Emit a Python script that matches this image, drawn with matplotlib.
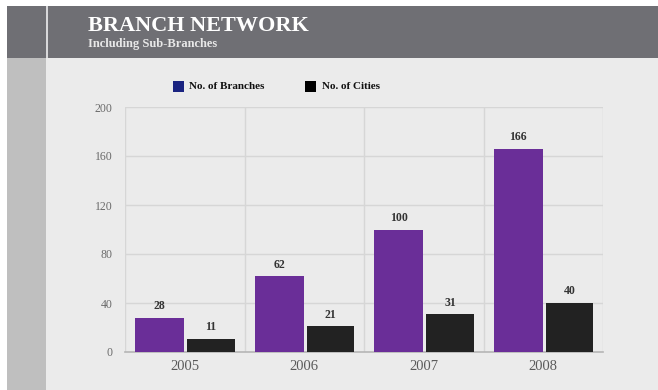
import numpy as np
import matplotlib.pyplot as plt
from matplotlib.patches import Rectangle

years = ["2005", "2006", "2007", "2008"]
branches = [28, 62, 100, 166]
cities = [11, 21, 31, 40]
y_ticks = [0, 40, 80, 120, 160, 200]

purple = "#6a2e98"
dark = "#222222"
bg = "#ebebeb"

plt.rcParams["font.family"] = ["Liberation Serif", "DejaVu Serif"]

fig = plt.figure(figsize=(6.58, 3.9), dpi=100)
fig.patch.set_facecolor("white")

# page background, header band and left strip
fig.patches.append(Rectangle((7 / 658, 0), 1, 1 - 6 / 390, transform=fig.transFigure,
                             facecolor=bg, edgecolor="none", zorder=-3))
fig.patches.append(Rectangle((7 / 658, 0), 39 / 658, 1 - 58 / 390, transform=fig.transFigure,
                             facecolor="#bfbfbf", edgecolor="none", zorder=-2))
fig.patches.append(Rectangle((7 / 658, 1 - 58 / 390), 1, 52 / 390, transform=fig.transFigure,
                             facecolor="#6f6f74", edgecolor="none", zorder=-2))
fig.patches.append(Rectangle((46 / 658, 1 - 58 / 390), 2 / 658, 52 / 390, transform=fig.transFigure,
                             facecolor="#d8d8da", edgecolor="none", zorder=-1))

fig.text(88 / 658, 1 - 26 / 390, "BRANCH NETWORK", color="white", fontsize=16,
         fontweight="bold", va="center", ha="left")
fig.text(88 / 658, 1 - 44 / 390, "Including Sub-Branches", color="#e8e8e8", fontsize=9,
         fontweight="bold", va="center", ha="left")

ax = fig.add_axes([125 / 658, 1 - 352 / 390, 478 / 658, 245 / 390])
ax.set_facecolor("none")

x = np.arange(len(years))
b1 = ax.bar(x - 0.21, branches, width=0.41, color=purple, zorder=3)
b2 = ax.bar(x + 0.22, cities, width=0.40, color=dark, zorder=3)

for rect, v in zip(list(b1) + list(b2), branches + cities):
    ax.text(rect.get_x() + rect.get_width() / 2, v + 4.5, str(v), ha="center", va="bottom",
            fontsize=8.5, fontweight="bold", color="#333333")

ax.set_xlim(-0.5, len(years) - 0.5)
ax.set_ylim(0, 200)
ax.set_yticks(y_ticks)
ax.set_yticklabels([str(t) for t in y_ticks], fontsize=8.5, color="#6a6a6a")
ax.set_xticks(x)
ax.set_xticklabels(years, fontsize=10.5, color="#5a5a5a")
ax.tick_params(axis="both", length=0)
ax.tick_params(axis="y", pad=9)
ax.tick_params(axis="x", pad=6)

for t in y_ticks[1:]:
    ax.axhline(t, color="#d6d6d6", lw=1, zorder=1)
for b in np.arange(-0.5, len(years), 1.0):
    ax.axvline(b, color="#d6d6d6", lw=1, zorder=1)

for s in ["top", "right", "left"]:
    ax.spines[s].set_visible(False)
ax.spines["bottom"].set_color("#b5b5b5")
ax.spines["bottom"].set_linewidth(1.2)

# legend row
fig.patches.append(Rectangle((173 / 658, 1 - 92 / 390), 11 / 658, 11 / 390, transform=fig.transFigure,
                             facecolor="#1a2380", edgecolor="none"))
fig.text(189 / 658, 1 - 86.5 / 390, "No. of Branches", fontsize=8, fontweight="bold",
         va="center", ha="left", color="#111111")
fig.patches.append(Rectangle((305 / 658, 1 - 92 / 390), 11 / 658, 11 / 390, transform=fig.transFigure,
                             facecolor="black", edgecolor="none"))
fig.text(322 / 658, 1 - 86.5 / 390, "No. of Cities", fontsize=8, fontweight="bold",
         va="center", ha="left", color="#111111")

plt.savefig("out.png", dpi=100)
